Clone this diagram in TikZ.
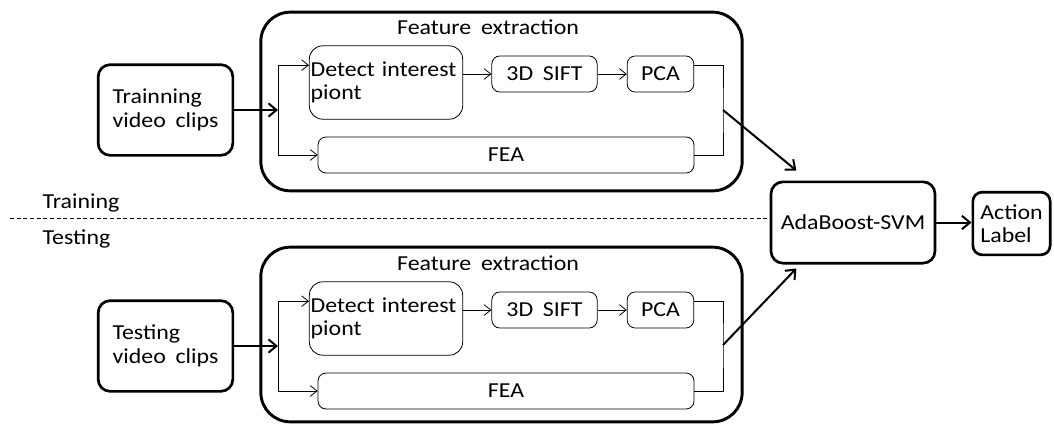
\documentclass[tikz,border=0pt]{standalone}
\usepackage{fontspec}
\setmainfont{Carlito}[FakeStretch=1.12, WordSpace=1.8]
\usetikzlibrary{positioning,arrows.meta}

\begin{document}
\begin{tikzpicture}[x=0.75pt, y=-0.75pt, node distance=177pt and 1cm, on grid,
  font=\fontsize{16}{17.5}\selectfont,
  bigbox/.style={draw, line width=2pt, rounded corners=9pt, align=left, inner sep=2pt},
  outerbox/.style={draw, line width=2.2pt, rounded corners=22pt, minimum width=361pt},
  smallbox/.style={draw, line width=0.6pt, rounded corners=6pt, minimum height=27pt, inner sep=1pt},
  thinline/.style={line width=0.6pt},
  thinarrow/.style={line width=0.6pt, -{Straight Barb[length=5pt,width=8pt]}},
  thickarrow/.style={line width=1.5pt, -{Straight Barb[length=6pt,width=10pt]}}]

\useasboundingbox (0,0) rectangle (1054,425);

% training row
\node [outerbox, minimum height=134pt] (tfeat) at (501.5,101.5) {};
\node (ttitle) at (488,27) {Feature extraction};
\node [bigbox, minimum width=101pt, minimum height=68pt] (train) at (165.5,110) {Trainning\\video clips};
\node [smallbox, rounded corners=10pt, text width=113pt, minimum height=55pt, align=left] (tdetect) at (386,82.5) {Detect interest\\piont};
\node [smallbox, minimum width=79pt] (tsift) at (544.5,74) {3D SIFT};
\node [smallbox, minimum width=50pt] (tpca) at (660.5,74) {PCA};
\node [smallbox, minimum width=282pt] (tfea) at (506,155) {FEA};
\coordinate (tsplit) at (278,110);
\coordinate (tjoin) at (723,110);

% testing row
\node [outerbox, minimum height=131pt] (efeat) at (501.5,334.5) {};
\node (etitle) [below=of ttitle] {Feature extraction};
\node [bigbox, minimum width=101pt, minimum height=68pt] (test) [below=of train] {Testing\\video clips};
\node [smallbox, rounded corners=10pt, text width=113pt, minimum height=55pt, align=left] (edetect) [below=of tdetect] {Detect interest\\piont};
\node [smallbox, minimum width=79pt] (esift) [below=of tsift] {3D SIFT};
\node [smallbox, minimum width=50pt] (epca) [below=of tpca] {PCA};
\node [smallbox, minimum width=282pt] (efea) [below=of tfea] {FEA};
\coordinate (esplit) at (278,346);
\coordinate (ejoin) at (723,345);

% classifier
\node [bigbox, minimum width=123pt, minimum height=61pt] (ada) at (853,222.5) {AdaBoost-SVM};
\node [bigbox, rounded corners=7pt, minimum width=58pt, minimum height=47pt] (action) at (1011.5,223.5) {Action\\Label};
\node [anchor=west] (trainlbl) at (38,203) {Training};
\node [anchor=west] (testlbl) at (38,239) {Testing};
\coordinate (dashstart) at (10,218);

\draw [thickarrow] (train) -- (tsplit);
\draw [thinarrow] (tsplit) |- ([yshift=13pt]tdetect.west);
\draw [thinarrow] (tsplit) |- (tfea.west);
\draw [thinarrow] (tdetect.east |- tsift) -- (tsift);
\draw [thinarrow] (tsift) -- (tpca);
\draw [thinline] ([yshift=6.75pt]tpca.east) -| (tjoin) |- (tfea.east);
\draw [thickarrow] (tjoin) -- ([xshift=20pt, yshift=7.5pt]ada.north west);

\draw [thickarrow] (test) -- (esplit);
\draw [thinarrow] (esplit) |- ([yshift=13pt]edetect.west);
\draw [thinarrow] (esplit) |- (efea.west);
\draw [thinarrow] (edetect.east |- esift) -- (esift);
\draw [thinarrow] (esift) -- (epca);
\draw [thinline] ([yshift=6.75pt]epca.east) -| (ejoin) |- (efea.east);
\draw [thickarrow] (ejoin) -- ([xshift=20pt, yshift=-3pt]ada.south west);

\draw [thinline, dash pattern=on 3pt off 2pt] (dashstart) -- (dashstart -| ada.west);
\draw [thickarrow] (ada.east) -- (ada.east -| action.west);
\end{tikzpicture}
\end{document}
